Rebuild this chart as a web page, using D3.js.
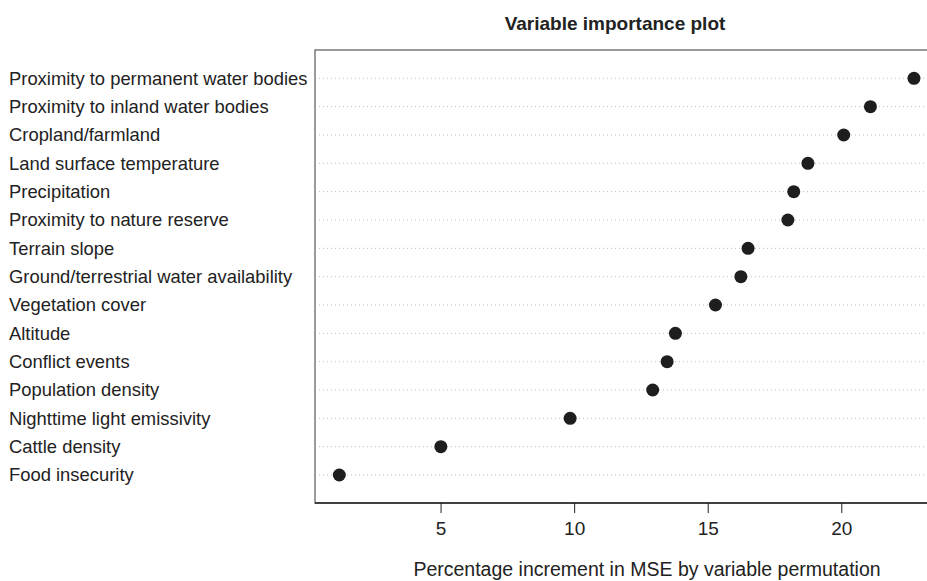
<html>
<head>
    <script src="https://d3js.org/d3.v7.min.js"></script>
    <style>
        body { margin: 0; background: #fff; }
        text { font-family: "Liberation Sans", Arial, sans-serif; fill: #222; }
    </style>
</head>
<body>
    <script>
        var variables = [
            'Proximity to permanent water bodies',
            'Proximity to inland water bodies',
            'Cropland/farmland',
            'Land surface temperature',
            'Precipitation',
            'Proximity to nature reserve',
            'Terrain slope',
            'Ground/terrestrial water availability',
            'Vegetation cover',
            'Altitude',
            'Conflict events',
            'Population density',
            'Nighttime light emissivity',
            'Cattle density',
            'Food insecurity'
        ];
        var incMSE = [22.72, 21.09, 20.09, 18.75, 18.22, 18.0, 16.51, 16.24,
            15.29, 13.79, 13.48, 12.94, 9.85, 5.01, 1.21];
        var xTicks = [5, 10, 15, 20];

        var w = 927, h = 581;
        var boxLeft = 315, boxRight = 940, boxTop = 50, boxBottom = 503;

        var svg = d3.select('body')
            .append('svg')
            .attr('width', w)
            .attr('height', h);

        var x = d3.scaleLinear()
            .domain([0.3, 23.2])
            .range([boxLeft, 926.8]);

        var y = d3.scalePoint()
            .domain(variables)
            .range([78.3, 475]);

        // dotted guide lines
        svg.append('g')
            .selectAll('line')
            .data(variables)
            .enter()
            .append('line')
            .attr('x1', boxLeft + 4)
            .attr('x2', w)
            .attr('y1', (d) => y(d))
            .attr('y2', (d) => y(d))
            .attr('stroke', '#bbb')
            .attr('stroke-width', 1)
            .attr('stroke-dasharray', '1,3');

        // box
        svg.append('rect')
            .attr('x', boxLeft)
            .attr('y', boxTop)
            .attr('width', boxRight - boxLeft)
            .attr('height', boxBottom - boxTop)
            .attr('fill', 'none')
            .attr('stroke', '#666')
            .attr('stroke-width', 1.3);

        // variable labels
        svg.append('g')
            .selectAll('text')
            .data(variables)
            .enter()
            .append('text')
            .attr('x', 9)
            .attr('y', (d) => y(d))
            .attr('dy', '0.35em')
            .attr('font-size', 18.4)
            .text((d) => d);

        // dots
        svg.append('g')
            .selectAll('circle')
            .data(incMSE)
            .enter()
            .append('circle')
            .attr('cx', (d) => x(d))
            .attr('cy', (d, i) => y(variables[i]))
            .attr('r', 6.5)
            .attr('fill', '#1e1e1e');

        // x axis
        var axis = svg.append('g')
            .attr('transform', 'translate(0,' + boxBottom + ')')
            .call(d3.axisBottom(x).tickValues(xTicks).tickSize(10).tickPadding(9));
        axis.select('.domain')
            .attr('d', 'M' + boxLeft + ',0H' + w)
            .attr('stroke', '#222')
            .attr('stroke-width', 1.3);
        axis.selectAll('.tick line').attr('stroke', '#222');
        axis.selectAll('.tick text')
            .attr('font-size', 19)
            .attr('font-family', '"Liberation Sans", Arial, sans-serif')
            .attr('fill', '#222');

        svg.append('text')
            .attr('x', 615)
            .attr('y', 30)
            .attr('text-anchor', 'middle')
            .attr('font-size', 19)
            .attr('font-weight', 'bold')
            .text('Variable importance plot');

        svg.append('text')
            .attr('x', 647)
            .attr('y', 576)
            .attr('text-anchor', 'middle')
            .attr('font-size', 19.5)
            .text('Percentage increment in MSE by variable permutation');
    </script>
</body>
</html>
